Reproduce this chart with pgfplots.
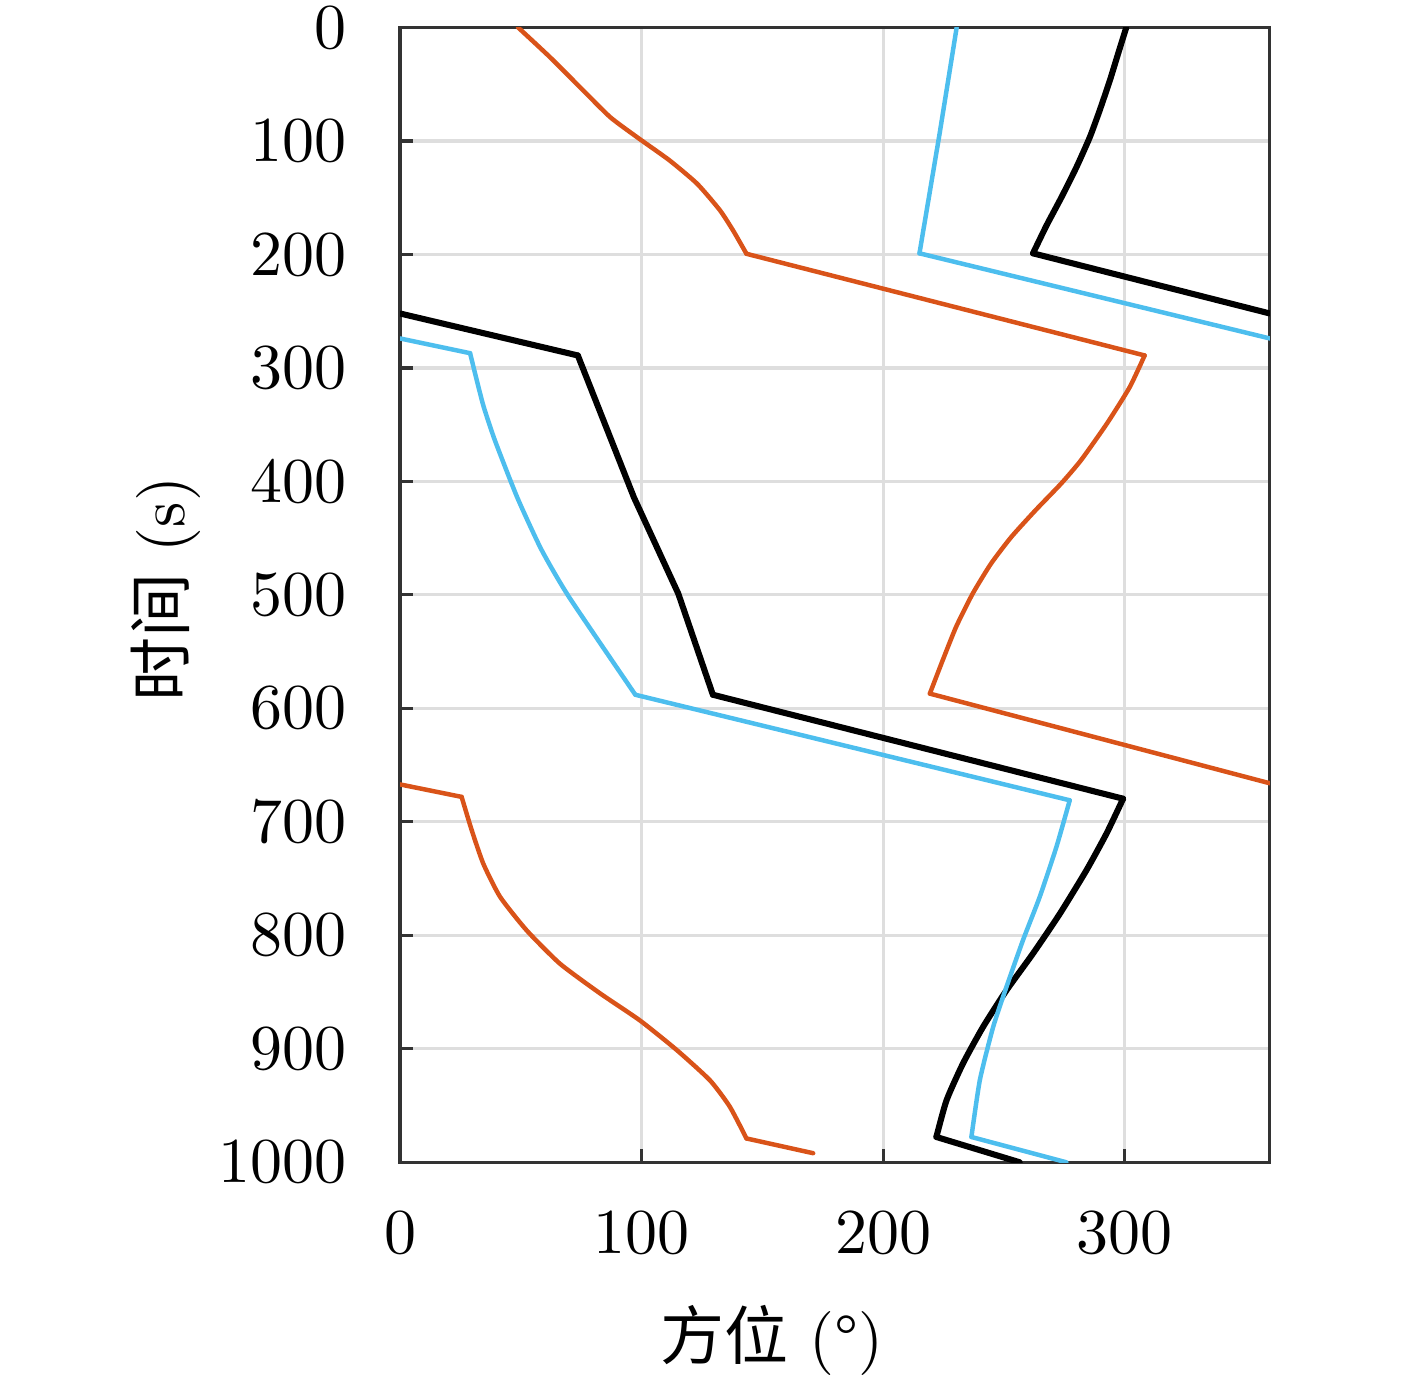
\documentclass[border=0pt]{standalone}
\usepackage{fontspec}
\usepackage{pgfplots}
\pgfplotsset{compat=1.18}
\newfontfamily\cjk{Noto Sans CJK SC}
\definecolor{morange}{HTML}{D95319}
\definecolor{mblue}{HTML}{4DBEEE}
\definecolor{axgray}{HTML}{333333}
\definecolor{gridgray}{HTML}{DEDEDE}
\begin{document}
\begin{tikzpicture}
\useasboundingbox (-62.5pt,-34.4pt) rectangle (158.9pt,181.6pt);
\begin{axis}[
  at={(0,0)}, anchor=south west,
  scale only axis,
  width=135.9pt, height=177.3pt,
  xmin=0, xmax=360, ymin=0, ymax=1000,
  y dir=reverse,
  xtick={0,100,200,300},
  ytick={0,100,200,300,400,500,600,700,800,900,1000},
  /pgf/number format/1000 sep={},
  tick align=inside,
  xtick pos=bottom, ytick pos=left,
  major tick length=2pt,
  grid=major,
  major grid style={gridgray, line width=0.5pt},
  axis line style={axgray, line width=0.5pt},
  tick style={axgray, line width=0.5pt},
  yticklabel style={xshift=-4.8pt},
  xticklabel style={yshift=-4.2pt},
  xlabel={{\cjk 方位} (°)},
  ylabel={{\cjk 时间} (s)},
  xlabel style={at={(axis description cs:0.4276,-0.1568)}, anchor=center},
  ylabel style={at={(axis description cs:-0.2693,0.505)}, anchor=center},
  blk/.style={black, line width=0.95pt, line cap=round, line join=round},
  blu/.style={mblue, line width=0.7pt, line cap=round, line join=round},
  org/.style={morange, line width=0.7pt, line cap=round, line join=round},
  sm/.style={smooth, tension=0.35},
]
% black
\addplot[blk, sm] coordinates {
 (300.6,0) (297.2,23.2) (293.8,46.7) (289.6,73) (285.5,96.7) (280,123) (273.8,149.5) (267.6,174.4) (262,199)
};
\addplot[blk] coordinates {(262,199) (360,252)};
\addplot[blk] coordinates {(0,252) (73.6,289)};
\addplot[blk] coordinates {
 (73.6,289) (96.8,414) (115.2,499) (129.5,588)
};
\addplot[blk] coordinates {(129.5,588) (299.3,679.6)};
\addplot[blk, sm] coordinates {
 (299.3,679.6) (292.4,710.4) (284.1,742.7) (273.1,781) (262,816) (251,848.5) (241.3,880.8) (233,913) (226.2,945.4) (222,977.7)
};
\addplot[blk] coordinates {(222,977.7) (256.5,1000)};
% blue
\addplot[blu] coordinates {(230.4,0) (223.3,94) (215,199)};
\addplot[blu] coordinates {(215,199) (360,274)};
\addplot[blu] coordinates {(0,274) (29,287)};
\addplot[blu, sm] coordinates {
 (29,287) (31.8,311) (34.6,334) (39.3,364) (48.5,414) (58.5,460) (70,502) (97.4,588)
};
\addplot[blu] coordinates {(97.4,588) (277.2,681)};
\addplot[blu, sm] coordinates {
 (277.2,681) (271.7,722) (264.8,766) (257.9,804) (251,845.5) (245.5,880.8) (240,927.5) (236.5,977.7)
};
\addplot[blu] coordinates {(236.5,977.7) (275.8,1000)};
% orange
\addplot[org, sm] coordinates {
 (48.9,0) (62.1,26.2) (74.5,52.6) (87.0,79) (99.0,98) (111.5,117) (123.0,137.7) (132.4,161) (137.9,179) (143.4,199.4)
};
\addplot[org] coordinates {(143.4,199.4) (308.2,289)};
\addplot[org, sm] coordinates {
 (308.2,289) (302.0,317) (292.6,349) (281.8,381.5) (273.6,402) (263.0,425.5) (253.0,449) (244.6,472.5) (237.0,499) (230.2,528) (224.6,557.7) (219.3,587)
};
\addplot[org] coordinates {(219.3,587) (360,666)};
\addplot[org] coordinates {(0,667) (25.5,678)};
\addplot[org, sm] coordinates {
 (25.5,678) (29.7,707.5) (34.5,737) (41.4,766) (52.4,795.6) (66.2,825) (82.7,851) (99.3,875) (114.5,901) (128.3,927.8) (136.5,951) (143.4,979)
};
\addplot[org] coordinates {(143.4,979) (171,992)};
\end{axis}
\end{tikzpicture}
\end{document}
